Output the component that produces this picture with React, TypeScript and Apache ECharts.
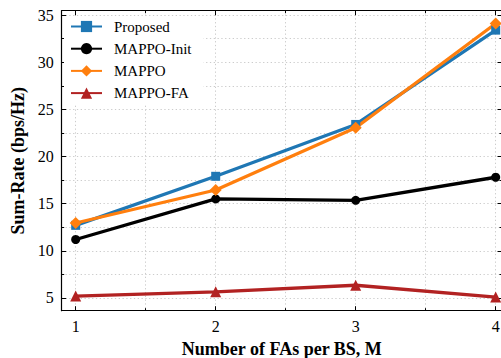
import React, { useEffect, useRef } from 'react';
import * as echarts from 'echarts';

const categories = [1, 2, 3, 4];
const seriesNames = ['Proposed', 'MAPPO-Init', 'MAPPO', 'MAPPO-FA'];
const proposed = [12.7, 17.9, 23.4, 33.4];
const mappoInit = [11.2, 15.5, 15.35, 17.8];
const mappo = [12.95, 16.45, 23.05, 34.1];
const mappoFA = [5.2, 5.65, 6.35, 5.1];
const xMajorTicks = [1, 2, 3, 4];
const xMinorTicks = [1.5, 2.5, 3.5];
const yMajorTicks = [5, 10, 15, 20, 25, 30, 35];
const yMinorTicks = [7.5, 12.5, 17.5, 22.5, 27.5, 32.5];

const FONT = '"Liberation Serif", "Times New Roman", serif';
const X_MIN = 0.9;
const X_MAX = 4.045;
const Y_MIN = 3.65;
const Y_MAX = 35.46;

const gridLine = { show: true, lineStyle: { color: '#cccccc', type: [1.3, 2.5], width: 1 } };
const noGrid = { show: false };

function xAxisDef(position: string, ticks: number[], len: number, showLine: boolean, labels: boolean, grid: boolean) {
  const a: any = {
    type: 'value',
    min: X_MIN,
    max: X_MAX,
    position,
    axisLine: { show: showLine, onZero: false, lineStyle: { color: '#000', width: 1.2 } },
    axisTick: { show: true, inside: true, length: len, customValues: ticks, lineStyle: { color: '#000', width: 1 } },
    axisLabel: labels
      ? { show: true, customValues: ticks, margin: 8, fontSize: 16, fontFamily: FONT, color: '#000' }
      : { show: false },
    splitLine: grid ? gridLine : noGrid,
  };
  return a;
}

function yAxisDef(position: string, ticks: number[], len: number, showLine: boolean, labels: boolean, grid: boolean) {
  const a: any = {
    type: 'value',
    min: Y_MIN,
    max: Y_MAX,
    position,
    axisLine: { show: showLine, onZero: false, lineStyle: { color: '#000', width: 1.2 } },
    axisTick: { show: true, inside: true, length: len, customValues: ticks, lineStyle: { color: '#000', width: 1 } },
    axisLabel: labels
      ? { show: true, customValues: ticks, margin: 8, fontSize: 16, fontFamily: FONT, color: '#000' }
      : { show: false },
    splitLine: grid ? gridLine : noGrid,
  };
  return a;
}

export default function App() {
  const ref = useRef<HTMLDivElement>(null);
  useEffect(() => {
    if (!ref.current) return;
    const chart = echarts.init(ref.current, undefined, { renderer: 'svg' });

    const xMain = xAxisDef('bottom', xMajorTicks, 4.5, true, true, true);
    xMain.name = 'Number of FAs per BS, M';
    xMain.nameLocation = 'middle';
    xMain.nameGap = 29;
    xMain.nameTextStyle = { fontFamily: FONT, fontWeight: 'bold', fontSize: 18, lineHeight: 16, color: '#000' };

    const yMain = yAxisDef('left', yMajorTicks, 4.5, true, true, true);
    yMain.name = 'Sum-Rate (bps/Hz)';
    yMain.nameLocation = 'middle';
    yMain.nameGap = 33;
    yMain.nameTextStyle = { fontFamily: FONT, fontWeight: 'bold', fontSize: 18, color: '#000' };

    const mk = (name: string, vals: number[], color: string, symbol: string, size: number | number[]) => ({
      name,
      type: 'line',
      xAxisIndex: 0,
      yAxisIndex: 0,
      data: categories.map((c, i) => [c, vals[i]]),
      symbol,
      symbolSize: size,
      showSymbol: true,
      lineStyle: { color, width: 3.3 },
      itemStyle: { color, borderWidth: 0 },
      emphasis: { disabled: true },
    });

    chart.setOption({
      animation: false,
      backgroundColor: '#fff',
      grid: { left: 61.7, top: 10.7, right: 1, bottom: 47.3, containLabel: false, outerBoundsMode: 'none' },
      xAxis: [
        xMain,
        xAxisDef('bottom', xMinorTicks, 2.5, false, false, true),
        xAxisDef('top', xMajorTicks, 4.5, true, false, false),
        xAxisDef('top', xMinorTicks, 2.5, false, false, false),
      ],
      yAxis: [
        yMain,
        yAxisDef('left', yMinorTicks, 2.5, false, false, true),
        yAxisDef('right', yMajorTicks, 4.5, true, false, false),
        yAxisDef('right', yMinorTicks, 2.5, false, false, false),
      ],
      legend: {
        data: seriesNames,
        orient: 'vertical',
        left: 64,
        top: 16,
        itemWidth: 31,
        itemHeight: 14,
        itemGap: 7.2,
        padding: [3, 12, 4, 6],
        backgroundColor: '#fff',
        textStyle: { fontFamily: FONT, fontSize: 15, color: '#000', padding: [0, 0, 0, 7] },
      },
      series: [
        mk(seriesNames[0], proposed, '#1f77b4', 'rect', 9),
        mk(seriesNames[1], mappoInit, '#000000', 'circle', 9),
        mk(seriesNames[2], mappo, '#ff7f0e', 'diamond', 12),
        mk(seriesNames[3], mappoFA, '#b22222', 'triangle', 11),
      ],
    });
    return () => chart.dispose();
  }, []);
  return <div ref={ref} style={{ position: 'fixed', left: 0, top: 0, width: 503, height: 358 }} />;
}
